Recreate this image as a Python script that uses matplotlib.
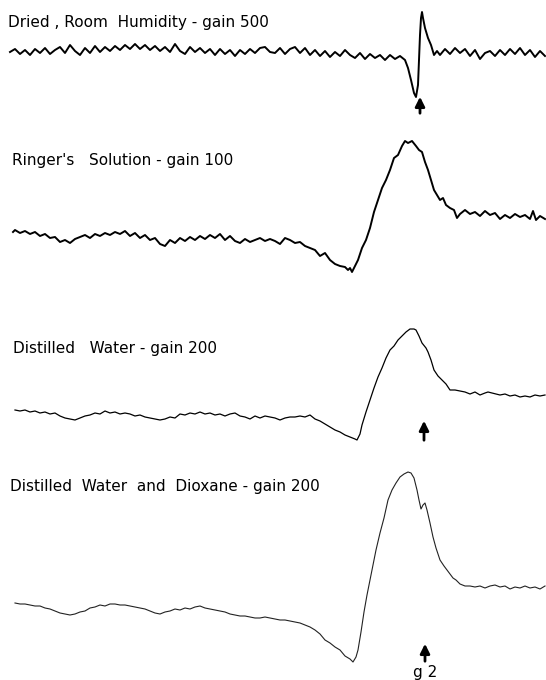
import numpy as np
import matplotlib.pyplot as plt

# traces (x: field position, y: pen position, downwards)
x1 = [10, 15, 20, 25, 30, 35, 40, 45, 50, 55, 60, 65, 70, 75, 80, 85, 90, 95, 100, 105,
      110, 115, 120, 125, 130, 135, 140, 145, 150, 155, 160, 165, 170, 175, 180, 185, 190, 195, 200, 205,
      210, 215, 220, 225, 230, 235, 240, 245, 250, 255, 260, 265, 270, 275, 280, 285, 290, 295, 300, 305,
      310, 315, 320, 325, 330, 335, 340, 345, 350, 355, 360, 365, 370, 375, 380, 385, 390, 395, 400, 405,
      408, 411, 414, 416, 418, 419, 420, 421, 422, 423, 425, 428, 431, 434, 437,
      440, 445, 450, 455, 460, 465, 470, 475, 480, 485, 490, 495, 500, 505, 510, 515, 520, 525, 530, 535, 540, 545]
y1 = [52, 49, 54, 50, 55, 49, 53, 48, 54, 50, 47, 53, 45, 51, 55, 48, 53, 46, 52, 47,
      51, 46, 50, 45, 49, 44, 49, 45, 50, 46, 51, 47, 52, 44, 51, 54, 47, 52, 48, 53,
      49, 55, 49, 54, 50, 56, 50, 54, 49, 53, 48, 47, 52, 53, 48, 54, 49, 47, 53, 48,
      55, 50, 56, 51, 57, 52, 56, 50, 55, 58, 53, 59, 54, 58, 55, 60, 55, 59, 56, 60,
      68, 80, 93, 97, 85, 60, 35, 18, 12, 18, 28, 38, 45, 55, 51,
      55, 49, 54, 48, 53, 49, 56, 50, 59, 53, 51, 56, 50, 55, 49, 54, 48, 55, 50, 57, 51, 56]

x2 = [13, 15, 20, 25, 30, 35, 40, 45, 50, 55, 60, 65, 70, 75, 80, 85, 90, 95, 100, 105,
      110, 115, 120, 125, 130, 135, 140, 145, 150, 155, 160, 165, 170, 175, 180, 185, 190, 195, 200, 205,
      210, 215, 220, 225, 230, 235, 240, 245, 250, 255, 260, 265, 270, 275, 280, 285, 290, 295, 300, 305,
      310, 315, 320, 325, 330, 335, 340, 345, 348, 350, 352, 355, 358, 362, 366, 370, 374, 378, 382, 386,
      390, 394, 398, 402, 405, 408, 412, 416, 419, 422, 425, 428, 431, 434, 437, 440, 443, 446, 450, 454,
      457, 460, 465, 470, 475, 480, 485, 490, 495, 500, 505, 510, 515, 520, 525, 530, 533, 536, 540, 545]
y2 = [232, 230, 233, 231, 234, 232, 236, 234, 238, 237, 242, 240, 243, 239, 237, 235, 238, 234, 236, 233,
      235, 232, 234, 231, 236, 233, 238, 235, 240, 238, 244, 246, 240, 243, 238, 241, 237, 240, 236, 239,
      235, 238, 234, 240, 236, 241, 243, 239, 242, 240, 238, 241, 239, 241, 244, 238, 240, 243, 242, 246,
      248, 250, 256, 253, 260, 264, 266, 267, 270, 268, 272, 266, 260, 248, 240, 228, 212, 200, 188, 180,
      170, 158, 155, 146, 141, 143, 141, 146, 150, 152, 162, 170, 180, 190, 195, 200, 198, 205, 208, 210,
      218, 214, 210, 214, 212, 216, 211, 215, 213, 219, 215, 218, 214, 217, 215, 219, 211, 220, 216, 219]

x3 = [15, 20, 25, 30, 35, 40, 45, 50, 55, 60, 65, 70, 75, 80, 85, 90, 95, 100, 105, 110,
      115, 120, 125, 130, 135, 140, 145, 150, 155, 160, 165, 170, 175, 180, 185, 190, 195, 200, 205, 210,
      215, 220, 225, 230, 235, 240, 245, 250, 255, 260, 265, 270, 275, 280, 285, 290, 295, 300, 305, 310,
      315, 320, 325, 330, 335, 340, 345, 350, 355, 357, 360, 362, 366, 370, 374, 378, 382, 386, 390, 394,
      398, 402, 406, 410, 414, 416, 419, 422, 426, 428, 431, 434, 438, 442, 446, 450, 455, 460, 465, 470,
      475, 480, 485, 488, 492, 496, 500, 505, 510, 515, 520, 525, 530, 535, 540, 545]
y3 = [410, 411, 410, 412, 411, 413, 412, 414, 413, 416, 418, 419, 420, 418, 416, 415, 413, 414, 411, 413,
      412, 414, 413, 414, 416, 415, 417, 418, 419, 420, 419, 417, 418, 414, 415, 413, 414, 412, 414, 413,
      415, 414, 416, 414, 413, 416, 417, 419, 416, 418, 416, 417, 418, 420, 418, 417, 417, 416, 417, 415,
      419, 421, 424, 427, 430, 432, 435, 437, 439, 440, 434, 425, 412, 400, 388, 377, 368, 358, 350, 346,
      340, 336, 332, 329, 329, 330, 336, 343, 348, 352, 360, 370, 376, 380, 384, 390, 390, 391, 392, 394,
      392, 395, 393, 392, 393, 394, 395, 394, 396, 395, 397, 396, 397, 395, 396, 395]

x4 = [15, 20, 25, 30, 35, 40, 45, 50, 55, 60, 65, 70, 75, 80, 85, 90, 95, 100, 105, 110,
      115, 120, 125, 130, 135, 140, 145, 150, 155, 160, 165, 170, 175, 180, 185, 190, 195, 200, 205, 210,
      215, 220, 225, 230, 235, 240, 245, 250, 255, 260, 265, 270, 275, 280, 285, 290, 295, 300, 305, 310,
      315, 320, 325, 330, 335, 340, 345, 350, 353, 356, 358, 361, 364, 367, 370, 373, 376, 380, 384, 388,
      392, 396, 400, 404, 408, 411, 414, 417, 419, 421, 423, 425, 427, 430, 433, 436, 440, 444, 447, 450,
      453, 456, 460, 465, 470, 475, 480, 485, 490, 495, 500, 505, 510, 515, 520, 525, 530, 535, 540, 545]
y4 = [603, 604, 604, 605, 606, 606, 608, 609, 611, 613, 614, 615, 614, 612, 611, 608, 607, 605, 606, 604,
      604, 605, 605, 606, 607, 608, 609, 611, 613, 614, 612, 611, 609, 610, 608, 609, 607, 606, 608, 609,
      610, 611, 612, 614, 615, 616, 616, 617, 618, 618, 617, 618, 619, 620, 620, 621, 622, 623, 625, 627,
      630, 634, 640, 643, 647, 650, 656, 659, 662, 657, 650, 632, 612, 595, 580, 565, 550, 533, 518, 500,
      490, 483, 477, 474, 472, 473, 478, 490, 500, 509, 505, 503, 510, 523, 537, 548, 560, 566, 570, 574,
      578, 580, 584, 586, 586, 587, 586, 588, 586, 585, 587, 586, 589, 587, 588, 586, 588, 587, 589, 586]

labels = ['Dried , Room  Humidity - gain 500',
          "Ringer's   Solution - gain 100",
          'Distilled   Water - gain 200',
          'Distilled  Water  and  Dioxane - gain 200']
label_pos = [(8, 22), (12, 160), (13, 348), (10, 487)]

# g-marker arrows (x, tail y, head y)
arrows = [(420, 116, 94), (424, 443, 418), (425, 664, 641)]

fig = plt.figure(figsize=(5.46, 6.8), dpi=100)
ax = fig.add_axes([0, 0, 1, 1])
ax.set_xlim(0, 546)
ax.set_ylim(680, 0)
ax.axis('off')

ax.plot(x1, y1, color='black', linewidth=1.4)
ax.plot(x2, y2, color='black', linewidth=1.4)
ax.plot(x3, y3, color='black', linewidth=0.9)
ax.plot(x4, y4, color='#222222', linewidth=0.8)

for txt, (tx, ty) in zip(labels, label_pos):
    ax.text(tx, ty, txt, fontsize=11, va='center', ha='left', color='black')

for xa, yt, yh in arrows:
    ax.annotate('', xy=(xa, yh), xytext=(xa, yt),
                arrowprops=dict(arrowstyle='-|>', color='black', lw=2, mutation_scale=14))

ax.text(425, 672, 'g 2', fontsize=11, ha='center', va='center')

fig.savefig('out.png', dpi=100)
